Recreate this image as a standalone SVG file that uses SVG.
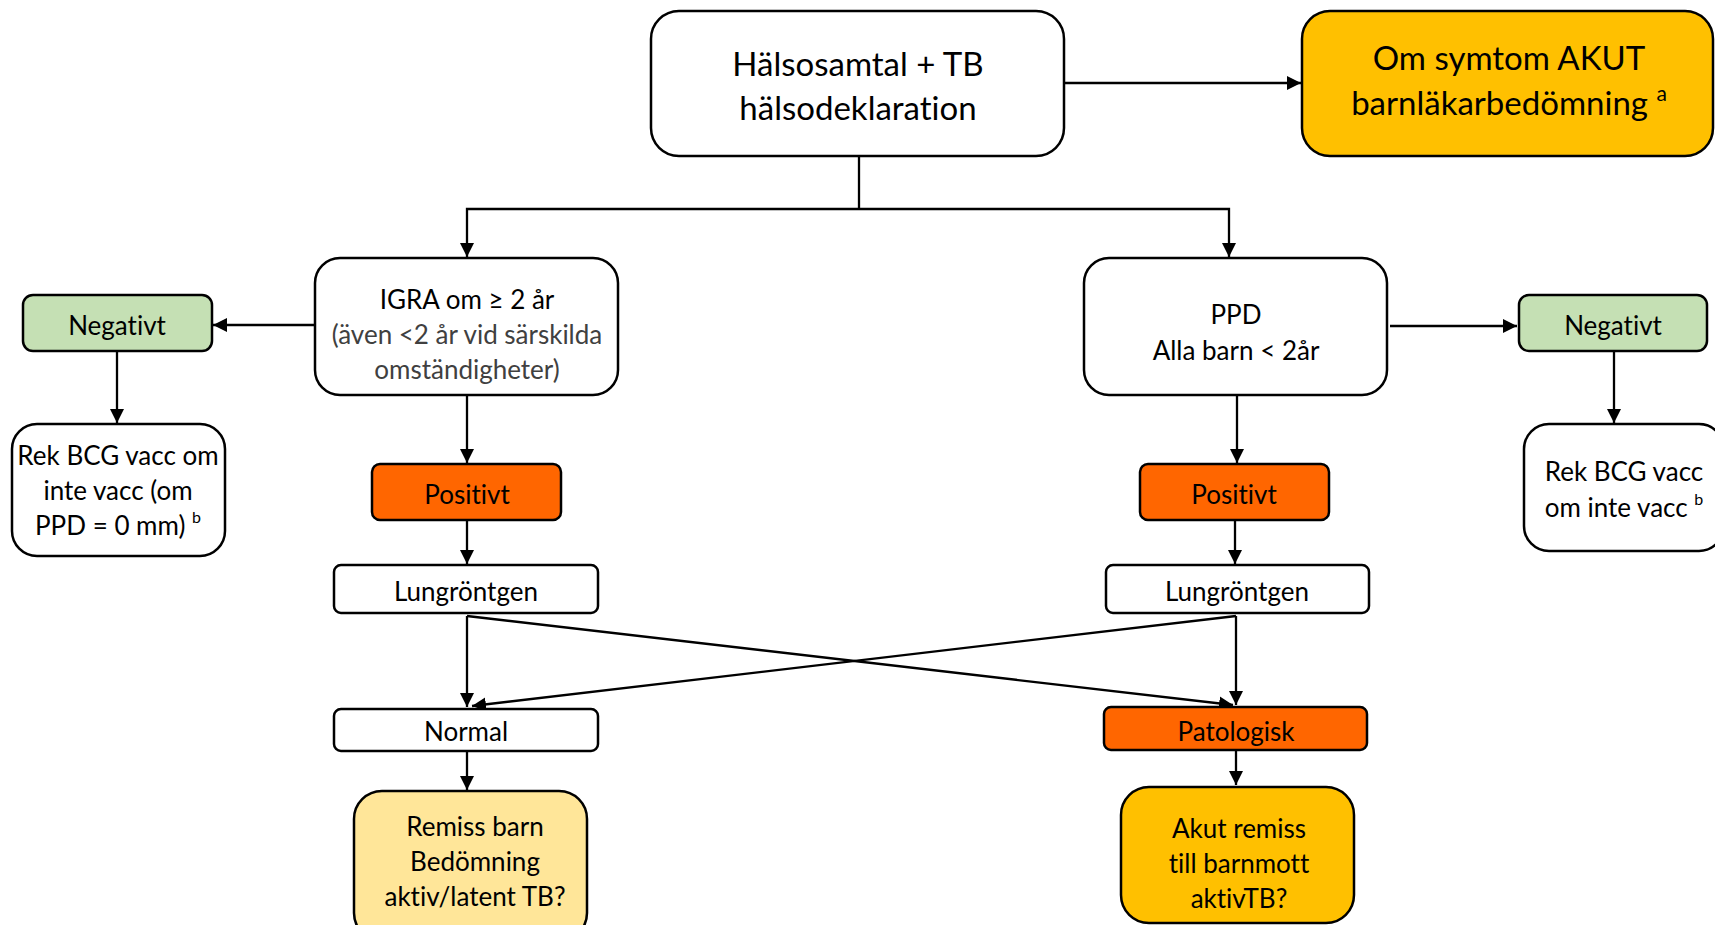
<svg xmlns="http://www.w3.org/2000/svg" width="1715" height="925" viewBox="0 0 1715 925">
<style>
  .box{stroke:#000;stroke-width:2.5}
  .w{fill:#fff}
  .org{fill:#FF6600}
  .gold{fill:#FFC000}
  .lgold{fill:#FFE699}
  .green{fill:#C5E0B4}
  text{font-family:Lato,"Open Sans","Liberation Sans",sans-serif;fill:#000;text-anchor:middle;dominant-baseline:central;font-variant-ligatures:none}
  .big{font-size:33px}
  .sm{font-size:26px}
  .gray{fill:#404040}
  .sup{font-size:16px}
  .conn{fill:none;stroke:#000;stroke-width:2.3}
</style>
<defs>
  <marker id="arr" viewBox="0 0 10 10" refX="10" refY="5" markerWidth="14" markerHeight="14" markerUnits="userSpaceOnUse" orient="auto">
    <path d="M0,0 L10,5 L0,10 z" fill="#000"/>
  </marker>
</defs>
<rect width="1715" height="925" fill="#fff"/>

<g id="connectors">
  <path class="conn" d="M1065,83 H1301" marker-end="url(#arr)"/>
  <path class="conn" d="M859,157 V209"/>
  <path class="conn" d="M859,209 H467 V257" marker-end="url(#arr)"/>
  <path class="conn" d="M859,209 H1229 V257" marker-end="url(#arr)"/>
  <path class="conn" d="M314,325 H213" marker-end="url(#arr)"/>
  <path class="conn" d="M117,352 V423" marker-end="url(#arr)"/>
  <path class="conn" d="M467,395 V463" marker-end="url(#arr)"/>
  <path class="conn" d="M467,520 V564" marker-end="url(#arr)"/>
  <path class="conn" d="M467,616 V707" marker-end="url(#arr)"/>
  <path class="conn" d="M467,616 L1233,705" marker-end="url(#arr)"/>
  <path class="conn" d="M1236,616 L472,706" marker-end="url(#arr)"/>
  <path class="conn" d="M1236,616 V705" marker-end="url(#arr)"/>
  <path class="conn" d="M467,752 V790" marker-end="url(#arr)"/>
  <path class="conn" d="M1236,750 V785" marker-end="url(#arr)"/>
  <path class="conn" d="M1390,326 H1517" marker-end="url(#arr)"/>
  <path class="conn" d="M1614,352 V423" marker-end="url(#arr)"/>
  <path class="conn" d="M1237,395 V463" marker-end="url(#arr)"/>
  <path class="conn" d="M1235,520 V564" marker-end="url(#arr)"/>
</g>

<g id="halsosamtal">
  <rect class="box w" x="651" y="11" width="413" height="145" rx="28"/>
  <text class="big" x="858" y="63">Hälsosamtal + TB</text>
  <text class="big" x="858" y="107">hälsodeklaration</text>
</g>

<g id="akut-barnlakare">
  <rect class="box gold" x="1302" y="11" width="411" height="145" rx="28"/>
  <text class="big" x="1509" y="57">Om symtom AKUT</text>
  <text class="big" x="1509" y="102">barnläkarbedömning <tspan font-size="21" dy="-10">a</tspan></text>
</g>

<g id="igra">
  <rect class="box w" x="315" y="258" width="303" height="137" rx="25"/>
  <text class="sm" x="467" y="299">IGRA om ≥ 2 år</text>
  <text class="sm gray" x="467" y="334">(även &lt;2 år vid särskilda</text>
  <text class="sm gray" x="467" y="369">omständigheter)</text>
</g>

<g id="negativt-vanster">
  <rect class="box green" x="23" y="295" width="189" height="56" rx="10"/>
  <text class="sm" x="117" y="325">Negativt</text>
</g>

<g id="rek-bcg-vanster">
  <rect class="box w" x="12" y="424" width="213" height="132" rx="25"/>
  <text class="sm" x="118" y="455">Rek BCG vacc om</text>
  <text class="sm" x="118" y="490">inte vacc (om</text>
  <text class="sm" x="118" y="525">PPD = 0 mm) <tspan class="sup" dy="-9">b</tspan></text>
</g>

<g id="positivt-vanster">
  <rect class="box org" x="372" y="464" width="189" height="56" rx="8"/>
  <text class="sm" x="467" y="494">Positivt</text>
</g>

<g id="lungrontgen-vanster">
  <rect class="box w" x="334" y="565" width="264" height="48" rx="7"/>
  <text class="sm" x="466" y="591">Lungröntgen</text>
</g>

<g id="normal">
  <rect class="box w" x="334" y="709" width="264" height="42" rx="7"/>
  <text class="sm" x="466" y="731">Normal</text>
</g>

<g id="remiss-barn">
  <rect class="box lgold" x="354" y="791" width="233" height="150" rx="28"/>
  <text class="sm" x="475" y="826">Remiss barn</text>
  <text class="sm" x="475" y="861">Bedömning</text>
  <text class="sm" x="475" y="896">aktiv/latent TB?</text>
</g>

<g id="ppd">
  <rect class="box w" x="1084" y="258" width="303" height="137" rx="25"/>
  <text class="sm" x="1236" y="314">PPD</text>
  <text class="sm" x="1236" y="350">Alla barn &lt; 2år</text>
</g>

<g id="negativt-hoger">
  <rect class="box green" x="1519" y="295" width="188" height="56" rx="10"/>
  <text class="sm" x="1613" y="325">Negativt</text>
</g>

<g id="rek-bcg-hoger">
  <rect class="box w" x="1524" y="424" width="200" height="127" rx="25"/>
  <text class="sm" x="1624" y="471">Rek BCG vacc</text>
  <text class="sm" x="1624" y="507">om inte vacc <tspan class="sup" dy="-9">b</tspan></text>
</g>

<g id="positivt-hoger">
  <rect class="box org" x="1140" y="464" width="189" height="56" rx="8"/>
  <text class="sm" x="1234" y="494">Positivt</text>
</g>

<g id="lungrontgen-hoger">
  <rect class="box w" x="1106" y="565" width="263" height="48" rx="7"/>
  <text class="sm" x="1237" y="591">Lungröntgen</text>
</g>

<g id="patologisk">
  <rect class="box org" x="1104" y="707" width="263" height="43" rx="7"/>
  <text class="sm" x="1236" y="731">Patologisk</text>
</g>

<g id="akut-remiss">
  <rect class="box gold" x="1121" y="787" width="233" height="136" rx="28"/>
  <text class="sm" x="1239" y="828">Akut remiss</text>
  <text class="sm" x="1239" y="863">till barnmott</text>
  <text class="sm" x="1239" y="898">aktivTB?</text>
</g>
</svg>
